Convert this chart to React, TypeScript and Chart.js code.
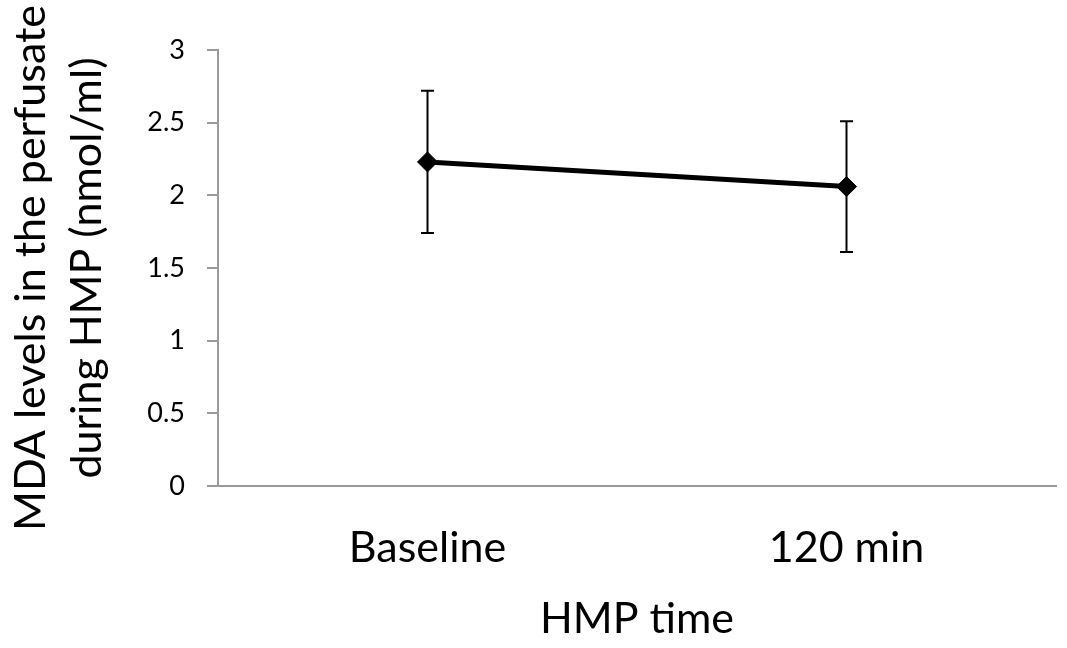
import React, { useEffect, useRef } from 'react';
import { Chart, registerables } from 'chart.js';

Chart.register(...registerables);

const categories = ['Baseline', '120 min'];
const meanValues = [2.23, 2.06];
const errorValues = [0.49, 0.45];
const yMin = 0;
const yMax = 3;
const yStep = 0.5;
const yTitleLines = ['MDA levels in the perfusate', 'during HMP (nmol/ml)'];
const xTitle = 'HMP time';

const FONT = 'Lato';
const AXIS_GRAY = '#9a9a9a';

const errorBarPlugin = {
  id: 'errorBars',
  beforeDatasetsDraw(chart: any) {
    const { ctx, scales } = chart;
    const x = scales.x;
    const y = scales.y;
    ctx.save();
    ctx.strokeStyle = '#000000';
    ctx.lineWidth = 2;
    meanValues.forEach((v, i) => {
      const px = x.getPixelForValue(i);
      const top = y.getPixelForValue(v + errorValues[i]);
      const bot = y.getPixelForValue(v - errorValues[i]);
      const half = 6.5;
      ctx.beginPath();
      ctx.moveTo(px, top);
      ctx.lineTo(px, bot);
      ctx.moveTo(px - half, top);
      ctx.lineTo(px + half, top);
      ctx.moveTo(px - half, bot);
      ctx.lineTo(px + half, bot);
      ctx.stroke();
    });
    ctx.restore();
  },
};

export default function App() {
  const ref = useRef<HTMLCanvasElement | null>(null);
  useEffect(() => {
    if (!ref.current) return;
    const chart = new Chart(ref.current, {
      type: 'line',
      data: {
        labels: categories,
        datasets: [
          {
            data: meanValues,
            borderColor: '#000000',
            backgroundColor: '#000000',
            borderWidth: 5,
            pointStyle: 'rectRot',
            pointRadius: 10,
            pointBorderWidth: 1,
            pointBackgroundColor: '#000000',
            pointBorderColor: '#000000',
            tension: 0,
            fill: false,
          },
        ],
      },
      options: {
        animation: false,
        responsive: true,
        maintainAspectRatio: false,
        layout: { padding: { top: 50, right: 10, left: 0, bottom: 0 } },
        plugins: {
          legend: { display: false },
          tooltip: { enabled: false },
        },
        scales: {
          x: {
            type: 'category',
            offset: true,
            grid: { display: false, drawTicks: false },
            border: { display: true, color: AXIS_GRAY, width: 2 },
            ticks: {
              color: '#000000',
              padding: 36,
              font: { family: FONT, size: 43 },
            },
            title: {
              display: true,
              text: xTitle,
              color: '#000000',
              font: { family: FONT, size: 43 },
              padding: { top: 0, bottom: 3 },
            },
            afterFit: (scale: any) => {
              scale.height = 162;
            },
          },
          y: {
            min: yMin,
            max: yMax,
            ticks: {
              stepSize: yStep,
              color: '#000000',
              padding: 22,
              font: { family: FONT, size: 27 },
              callback: (v: any) => String(v),
            },
            grid: {
              display: true,
              drawOnChartArea: false,
              drawTicks: true,
              tickLength: 11,
              color: AXIS_GRAY,
              lineWidth: 2,
            },
            border: { display: true, color: AXIS_GRAY, width: 2 },
            title: {
              display: true,
              text: yTitleLines,
              color: '#000000',
              font: { family: FONT, size: 43, lineHeight: 1.3 },
              padding: { top: 3, bottom: 0 },
            },
            afterFit: (scale: any) => {
              scale.width = 218;
            },
          },
        },
      },
      plugins: [errorBarPlugin],
    });
    return () => chart.destroy();
  }, []);

  return (
    <div style={{ position: 'absolute', left: 0, top: 0, width: 1067, height: 648, background: '#ffffff' }}>
      <canvas ref={ref} />
    </div>
  );
}
